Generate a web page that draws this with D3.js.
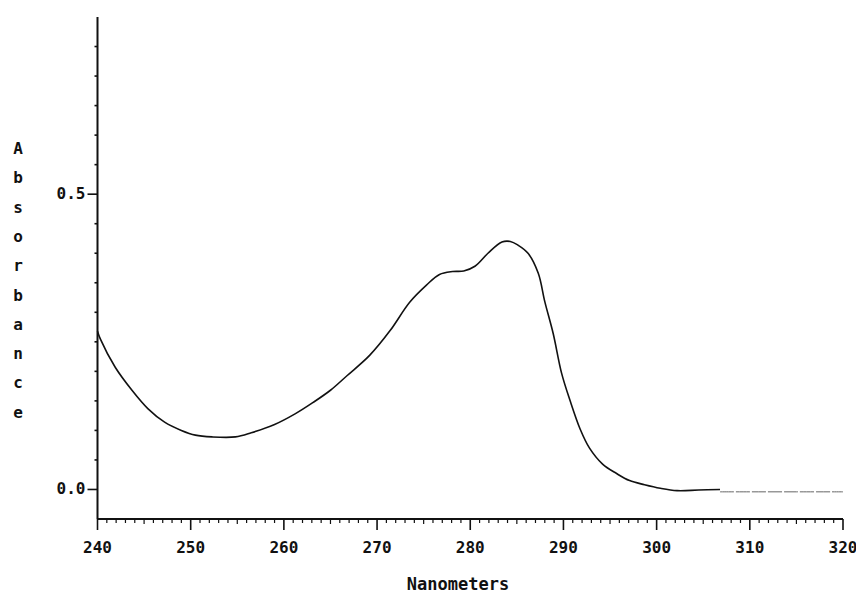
<!DOCTYPE html>
<html>
<head>
<meta charset="utf-8">
<script src="https://cdn.jsdelivr.net/npm/d3@7"></script>
<style>
  html, body { margin: 0; padding: 0; background: #fff; }
  text { font-family: "DejaVu Sans Mono", monospace; font-weight: bold; fill: #111; }
</style>
</head>
<body>
<svg id="chart" width="856" height="595"></svg>
<script>
// ---- data ----
const wavelength = [240, 240.3, 241.9, 243.7, 245.4, 247.2, 249.0, 250.5, 252.3, 254.8, 256.5, 259.0, 261.2, 263.1, 265, 266.8, 269.2, 271.4, 273.5, 275.3, 276.7, 278.1, 279.3, 280.5, 281.9, 283.4, 284.3, 285.1, 286.2, 287.3, 288.0, 288.9, 289.8, 290.7, 291.8, 292.8, 294.2, 295.7, 297.1, 298.7, 300.4, 302.2, 304.5, 306.8];
const absorbance = [0.268, 0.255, 0.207, 0.168, 0.137, 0.114, 0.100, 0.092, 0.089, 0.089, 0.096, 0.110, 0.128, 0.147, 0.168, 0.193, 0.227, 0.269, 0.317, 0.346, 0.364, 0.369, 0.370, 0.378, 0.400, 0.419, 0.420, 0.414, 0.400, 0.366, 0.318, 0.264, 0.197, 0.151, 0.102, 0.070, 0.043, 0.027, 0.015, 0.008, 0.002, -0.002, -0.001, 0.000];
const tailWavelength = [306.8, 310, 315, 320];
const tailAbsorbance = [-0.004, -0.004, -0.004, -0.004];
const xTickValues = [240, 250, 260, 270, 280, 290, 300, 310, 320];
const xTickLabels = ["240", "250", "260", "270", "280", "290", "300", "310", "320"];
const yTickValues = [0.0, 0.5];
const yTickLabels = ["0.0", "0.5"];
const yTitle = "Absorbance";
const xTitle = "Nanometers";

// ---- scales ----
const svg = d3.select("#chart");
const x = d3.scaleLinear().domain([240, 320]).range([97.5, 843]);
const y = d3.scaleLinear().domain([-0.05, 0.8]).range([519, 17]);

// ---- axes ----
const axisG = svg.append("g").attr("stroke", "#111");
axisG.append("line").attr("x1", x(240)).attr("x2", x(240)).attr("y1", y(0.8)).attr("y2", y(-0.05)).attr("stroke-width", 2);
axisG.append("line").attr("x1", x(240)).attr("x2", x(320)).attr("y1", y(-0.05)).attr("y2", y(-0.05)).attr("stroke-width", 2);

// x ticks: minor every 1 nm, major every 10
const xMinor = d3.range(240, 320.5, 1);
axisG.selectAll(".xt").data(xMinor).enter().append("line")
  .attr("x1", d => x(d)).attr("x2", d => x(d))
  .attr("y1", y(-0.05))
  .attr("y2", d => y(-0.05) + (d % 10 === 0 ? 11 : (d % 5 === 0 ? 5 : 4)))
  .attr("stroke-width", d => d % 10 === 0 ? 1.6 : 1.2);

// y ticks: minor every 0.05, major at labeled values
const yMinor = d3.range(0, 17).map(i => -0.05 + i * 0.05).filter(v => v > -0.04);
axisG.selectAll(".yt").data(yMinor).enter().append("line")
  .attr("y1", d => y(d)).attr("y2", d => y(d))
  .attr("x1", x(240))
  .attr("x2", d => x(240) - (yTickValues.some(v => Math.abs(v - d) < 1e-6) ? 10 : 3))
  .attr("stroke-width", 1.6);

// tick labels
svg.selectAll(".xl").data(xTickValues).enter().append("text")
  .attr("x", d => x(d)).attr("y", 553)
  .attr("text-anchor", "middle").attr("font-size", 16)
  .text((d, i) => xTickLabels[i]);

svg.selectAll(".yl").data(yTickValues).enter().append("text")
  .attr("x", x(240) - 12).attr("y", d => y(d) + 5)
  .attr("text-anchor", "end").attr("font-size", 16)
  .text((d, i) => yTickLabels[i]);

// titles
svg.selectAll(".yt-letter").data(yTitle.split("")).enter().append("text")
  .attr("x", 18).attr("y", (d, i) => 154 + i * 29.3)
  .attr("text-anchor", "middle").attr("font-size", 16)
  .text(d => d);

svg.append("text").attr("x", 458).attr("y", 590)
  .attr("text-anchor", "middle").attr("font-size", 17)
  .text(xTitle);

// ---- curve ----
const line = d3.line().x(d => x(d[0])).y(d => y(d[1])).curve(d3.curveCatmullRom.alpha(0.5));
svg.append("path")
  .datum(wavelength.map((w, i) => [w, absorbance[i]]))
  .attr("d", line).attr("fill", "none").attr("stroke", "#111").attr("stroke-width", 1.6);
svg.append("path")
  .datum(tailWavelength.map((w, i) => [w, tailAbsorbance[i]]))
  .attr("d", line).attr("fill", "none").attr("stroke", "#666").attr("stroke-width", 1)
  .attr("stroke-dasharray", "14 2");
</script>
</body>
</html>
